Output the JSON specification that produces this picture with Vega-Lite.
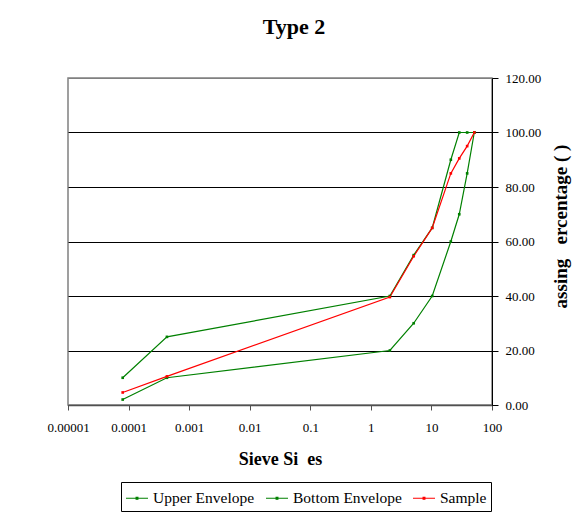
{
  "$schema": "https://vega.github.io/schema/vega-lite/v6.json",
  "autosize": "none",
  "width": 424,
  "height": 327,
  "padding": {"left": 68, "top": 78, "right": 81, "bottom": 108},
  "background": "white",
  "config": {
    "font": "Liberation Serif",
    "view": {"stroke": "#808080", "strokeWidth": 1.5}
  },
  "title": {
    "text": "Type 2",
    "font": "Liberation Serif",
    "fontSize": 22,
    "fontWeight": "bold",
    "color": "black",
    "anchor": "middle",
    "frame": "group",
    "dx": 14,
    "offset": 33
  },
  "data": {
    "values": [
      {"series": "Upper Envelope", "size": 0.00008, "pct": 10},
      {"series": "Upper Envelope", "size": 0.00043, "pct": 25},
      {"series": "Upper Envelope", "size": 2.06, "pct": 40},
      {"series": "Upper Envelope", "size": 5.1, "pct": 55},
      {"series": "Upper Envelope", "size": 10.3, "pct": 65},
      {"series": "Upper Envelope", "size": 20.9, "pct": 90},
      {"series": "Upper Envelope", "size": 28.8, "pct": 100},
      {"series": "Upper Envelope", "size": 38.9, "pct": 100},
      {"series": "Upper Envelope", "size": 51, "pct": 100},
      {"series": "Bottom Envelope", "size": 0.00008, "pct": 2},
      {"series": "Bottom Envelope", "size": 0.00043, "pct": 10},
      {"series": "Bottom Envelope", "size": 2.06, "pct": 20},
      {"series": "Bottom Envelope", "size": 5.1, "pct": 30},
      {"series": "Bottom Envelope", "size": 10.3, "pct": 40},
      {"series": "Bottom Envelope", "size": 20.9, "pct": 60},
      {"series": "Bottom Envelope", "size": 28.8, "pct": 70},
      {"series": "Bottom Envelope", "size": 38.9, "pct": 85},
      {"series": "Bottom Envelope", "size": 51, "pct": 100},
      {"series": "Sample", "size": 0.00008, "pct": 4.6},
      {"series": "Sample", "size": 0.00043, "pct": 10.5},
      {"series": "Sample", "size": 2.06, "pct": 39.6},
      {"series": "Sample", "size": 5.1, "pct": 54.6},
      {"series": "Sample", "size": 10.3, "pct": 65},
      {"series": "Sample", "size": 20.9, "pct": 85},
      {"series": "Sample", "size": 28.8, "pct": 90.5},
      {"series": "Sample", "size": 38.9, "pct": 95},
      {"series": "Sample", "size": 51, "pct": 100}
    ]
  },
  "mark": {
    "type": "line",
    "strokeWidth": 1.2,
    "point": {"shape": "square", "size": 7, "filled": true}
  },
  "encoding": {
    "x": {
      "field": "size",
      "type": "quantitative",
      "scale": {"type": "log", "domain": [0.00001, 100], "nice": false},
      "axis": {
        "title": "Sieve Si\u00a0\u00a0es",
        "titleFont": "Liberation Serif",
        "titleFontSize": 18,
        "titleFontWeight": "bold",
        "titleColor": "black",
        "titlePadding": 16,
        "values": [0.00001, 0.0001, 0.001, 0.01, 0.1, 1, 10, 100],
        "format": "~g",
        "labelFont": "Liberation Serif",
        "labelFontSize": 13,
        "labelColor": "black",
        "labelPadding": 11,
        "labelFlush": false,
        "labelOverlap": false,
        "grid": false,
        "domainColor": "#505050",
        "domainWidth": 1.5,
        "tickColor": "#505050",
        "tickSize": 5,
        "tickWidth": 1
      }
    },
    "y": {
      "field": "pct",
      "type": "quantitative",
      "scale": {"domain": [0, 120], "nice": false},
      "axis": {
        "orient": "right",
        "title": "assing\u00a0\u00a0\u00a0ercentage\u00a0(\u00a0)",
        "titleFont": "Liberation Serif",
        "titleFontSize": 19,
        "titleFontWeight": "bold",
        "titleColor": "black",
        "titleAngle": 270,
        "titleAlign": "center",
        "titleBaseline": "middle",
        "titleX": 68,
        "titleY": 148,
        "values": [0, 20, 40, 60, 80, 100, 120],
        "format": ".2f",
        "labelFont": "Liberation Serif",
        "labelFontSize": 13,
        "labelColor": "black",
        "labelPadding": 7,
        "labelFlush": false,
        "domainColor": "black",
        "domainWidth": 1,
        "tickColor": "black",
        "tickSize": 6,
        "grid": true,
        "gridColor": {"condition": {"test": "datum.value === 120", "value": "#808080"}, "value": "black"},
        "gridWidth": 1
      }
    },
    "color": {
      "field": "series",
      "type": "nominal",
      "scale": {
        "domain": ["Upper Envelope", "Bottom Envelope", "Sample"],
        "range": ["#008000", "#008000", "#ff0000"]
      },
      "legend": {
        "title": null,
        "orient": "none",
        "legendX": 53,
        "legendY": 404,
        "direction": "horizontal",
        "strokeColor": "black",
        "fillColor": "white",
        "padding": 4,
        "labelFont": "Liberation Serif",
        "labelFontSize": 15.5,
        "labelColor": "black",
        "labelOffset": 4,
        "columnPadding": 8,
        "symbolType": "M-1,0H1M-0.08,-0.08H0.08V0.08H-0.08Z",
        "symbolSize": 484,
        "symbolStrokeWidth": 1.2
      }
    }
  }
}
